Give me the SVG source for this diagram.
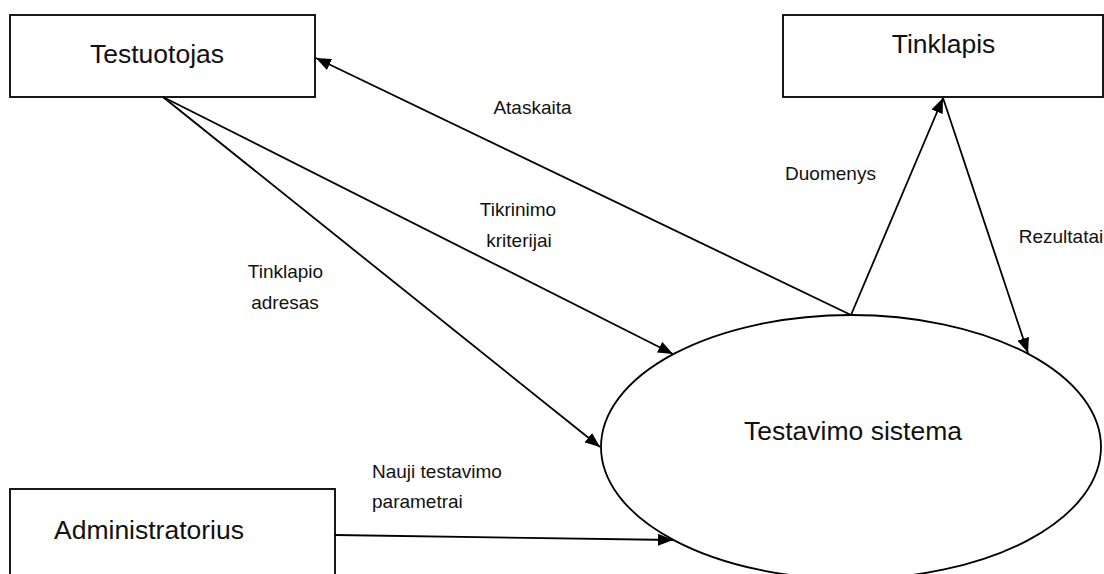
<svg xmlns="http://www.w3.org/2000/svg" width="1104" height="574" viewBox="0 0 1104 574">
<defs>
<style>
.box{fill:#fff;stroke:#000;stroke-width:1.8}
.big{font-family:"Liberation Sans",Arial,sans-serif;font-size:26.5px;fill:#111}
.small{font-family:"Liberation Sans",Arial,sans-serif;font-size:19px;fill:#111}
.conn line{stroke:#000;stroke-width:1.8;fill:none}
</style>
<marker id="arr" markerUnits="userSpaceOnUse" markerWidth="16" markerHeight="12" refX="15" refY="6" orient="auto">
<path d="M0,0 L15,6 L0,12 z" fill="#000"/>
</marker>
</defs>
<rect width="1104" height="574" fill="#fff"/>
<g id="testuotojas">
<rect class="box" x="10" y="15" width="305" height="82"/>
<text class="big" x="157" y="63" text-anchor="middle">Testuotojas</text>
</g>
<g id="tinklapis">
<rect class="box" x="783" y="15" width="320" height="82"/>
<text class="big" x="943.5" y="53" text-anchor="middle">Tinklapis</text>
</g>
<g id="administratorius">
<rect class="box" x="10" y="489" width="325" height="120"/>
<text class="big" x="149" y="539" text-anchor="middle">Administratorius</text>
</g>
<g id="testavimo-sistema">
<ellipse class="box" cx="851" cy="447" rx="250" ry="132"/>
<text class="big" x="853" y="440" text-anchor="middle">Testavimo sistema</text>
</g>
<g class="conn" id="connectors">
<line x1="851" y1="315" x2="316" y2="58" marker-end="url(#arr)"/>
<line x1="163" y1="97" x2="673" y2="354" marker-end="url(#arr)"/>
<line x1="163" y1="97" x2="600" y2="447" marker-end="url(#arr)"/>
<line x1="851" y1="315" x2="943" y2="98" marker-end="url(#arr)"/>
<line x1="943" y1="98" x2="1028" y2="353" marker-end="url(#arr)"/>
<line x1="335" y1="535" x2="673" y2="540" marker-end="url(#arr)"/>
</g>
<g id="labels">
<text class="small" x="532.5" y="114" text-anchor="middle">Ataskaita</text>
<text class="small" x="830.5" y="180" text-anchor="middle">Duomenys</text>
<text class="small" x="518" y="216" text-anchor="middle">Tikrinimo</text>
<text class="small" x="519" y="247" text-anchor="middle">kriterijai</text>
<text class="small" x="285.5" y="278" text-anchor="middle">Tinklapio</text>
<text class="small" x="285" y="308.5" text-anchor="middle">adresas</text>
<text class="small" x="1061" y="243" text-anchor="middle">Rezultatai</text>
<text class="small" x="372" y="478">Nauji testavimo</text>
<text class="small" x="372" y="508">parametrai</text>
</g>
</svg>
